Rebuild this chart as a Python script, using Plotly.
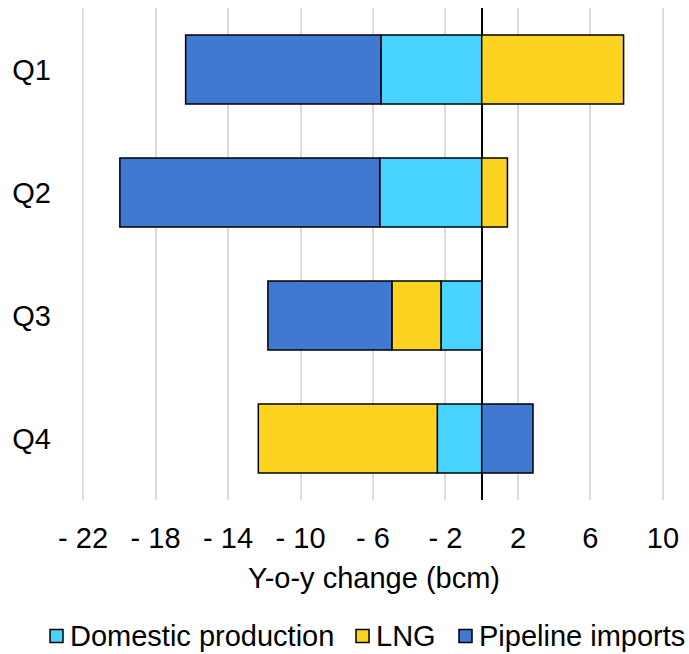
import plotly.graph_objects as go

quarters = ["Q1", "Q2", "Q3", "Q4"]
domestic = [-5.56, -5.63, -2.25, -2.45]
lng = [7.83, 1.42, -2.71, -9.88]
pipeline = [-10.78, -14.34, -6.84, 2.83]

tick_vals = [-22, -18, -14, -10, -6, -2, 2, 6, 10]
tick_text = ["- 22", "- 18", "- 14", "- 10", "- 6", "- 2", "2", "6", "10"]

series = [
    ("Domestic production", domestic, "#48D3FE"),
    ("LNG", lng, "#FDD321"),
    ("Pipeline imports", pipeline, "#4079D2"),
]

W, H = 689, 654
L, R, T, B = 82, 25, 8, 154
plot_w, plot_h = W - L - R, H - T - B


def px_x(px):
    return (px - L) / plot_w


def px_y(py):
    return (H - B - py) / plot_h


font = "Liberation Sans, Arial, sans-serif"
fs = 29

fig = go.Figure()
for name, vals, color in series:
    fig.add_trace(go.Bar(
        y=quarters, x=vals, name=name, orientation="h",
        marker=dict(color=color, line=dict(color="#000000", width=1.5)),
        showlegend=False,
    ))

# legend drawn as small bordered squares with labels underneath the axis
legend_items = [(50, "Domestic production", "#48D3FE"),
                (356, "LNG", "#FDD321"),
                (459, "Pipeline imports", "#4079D2")]
shapes = []
annotations = []
ly = 636
for x0, label, color in legend_items:
    shapes.append(dict(type="rect", xref="paper", yref="paper",
                       x0=px_x(x0), x1=px_x(x0 + 13),
                       y0=px_y(ly + 6.5), y1=px_y(ly - 6.5),
                       fillcolor=color, line=dict(color="#000000", width=1.5)))
    annotations.append(dict(text=label, xref="paper", yref="paper",
                            x=px_x(x0 + 18), y=px_y(ly), xanchor="left", yanchor="middle",
                            showarrow=False, font=dict(size=fs, family=font, color="#000000")))

annotations.append(dict(text="Y-o-y change (bcm)", xref="paper", yref="paper",
                        x=px_x(374), y=px_y(578), xanchor="center", yanchor="middle",
                        showarrow=False, font=dict(size=fs, family=font, color="#000000")))

fig.update_layout(
    barmode="relative",
    bargap=0.44,
    width=W, height=H,
    margin=dict(l=L, r=R, t=T, b=B, autoexpand=False),
    plot_bgcolor="white", paper_bgcolor="white",
    font=dict(family=font, size=fs, color="#000000"),
    shapes=shapes,
    annotations=annotations,
    xaxis=dict(
        range=[-22.06, 10.06], tickvals=tick_vals, ticktext=tick_text,
        showgrid=True, gridcolor="#DCDCDC", gridwidth=2,
        zeroline=True, zerolinecolor="#000000", zerolinewidth=2,
        showline=False, ticks="", ticklabelstandoff=18,
        tickfont=dict(size=fs),
    ),
    yaxis=dict(
        autorange="reversed", showgrid=False, showline=False, ticks="",
        tickfont=dict(size=fs), ticklabelstandoff=30,
    ),
)

fig.write_html("out.html")
